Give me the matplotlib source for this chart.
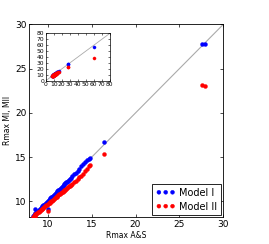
import matplotlib
matplotlib.use('Agg')
import matplotlib.pyplot as plt

# Rmax from A&S (x) vs Rmax from Model I / Model II (y)
as_vals = [8.3, 8.4, 8.5, 8.6, 8.7, 8.8, 8.9, 9.0, 9.1, 9.2, 9.3, 9.4, 9.5,
           9.6, 9.7, 9.8, 9.9, 10.0, 10.1, 10.2, 10.3, 10.4, 10.5, 10.6,
           10.7, 10.8, 10.9, 11.0, 11.1, 11.2, 11.3, 11.4, 11.5, 11.6, 11.7,
           11.8, 11.9, 12.0, 12.1, 12.2, 12.3, 12.4, 12.5, 12.6, 12.8, 13.0,
           13.2, 13.4, 13.6, 13.8, 14.0, 14.3, 14.5, 14.7, 14.8, 16.4,
           27.6, 27.9, 60.0]
model1 = [8.35, 8.45, 8.55, 8.65, 8.75, 8.85, 8.95, 9.05, 9.15, 9.25, 9.35,
          9.45, 9.55, 9.65, 9.75, 9.85, 9.95, 10.05, 10.15, 10.25, 10.35,
          10.45, 10.55, 10.65, 10.75, 10.85, 10.95, 11.05, 11.15, 11.25,
          11.35, 11.45, 11.55, 11.65, 11.75, 11.85, 11.95, 12.05, 12.15,
          12.25, 12.35, 12.45, 12.55, 12.65, 12.85, 13.05, 13.25, 13.45,
          13.7, 13.95, 14.2, 14.5, 14.7, 14.85, 14.9, 16.7,
          27.75, 27.75, 57.0]
model2 = [8.3, 8.4, 8.45, 8.55, 8.6, 8.7, 8.8, 8.85, 8.95, 9.05, 9.1, 9.2,
          9.3, 9.35, 9.45, 9.55, 9.6, 9.7, 9.8, 9.85, 9.95, 10.05, 10.1,
          10.2, 10.3, 10.35, 10.45, 10.55, 10.6, 10.7, 10.8, 10.85, 10.95,
          11.05, 11.1, 11.2, 11.3, 11.35, 11.45, 11.55, 11.6, 11.7, 11.8,
          11.85, 12.0, 12.2, 12.35, 12.55, 12.75, 12.9, 13.1, 13.45, 13.7,
          13.95, 14.1, 15.4, 23.1, 23.0, 38.0]
# a few off-diagonal points near the bottom
extra_x1 = [8.6, 10.0]
extra_y1 = [9.2, 9.1]
extra_x2 = [10.0, 8.5]
extra_y2 = [8.95, 8.3]

fig = plt.figure(figsize=(2.69, 2.44), dpi=100)
ax = fig.add_axes([0.109, 0.109, 0.721, 0.791])

ax.plot([0, 100], [0, 100], color='#aaaaaa', lw=0.8, zorder=1)
ax.scatter(as_vals + extra_x1, model1 + extra_y1, s=8, c='blue',
           edgecolors='blue', lw=0.3, label='Model I', zorder=3)
ax.scatter(as_vals + extra_x2, model2 + extra_y2, s=8, c='red',
           edgecolors='red', lw=0.3, label='Model II', zorder=3)

ax.set_xlim(7.9, 30)
ax.set_ylim(8.2, 30)
ax.set_xticks([10, 15, 20, 25, 30])
ax.set_yticks([10, 15, 20, 25, 30])
ax.tick_params(direction='in', length=2.5, width=0.5, labelsize=6.5,
               top=True, right=True, pad=2)
for sp in ax.spines.values():
    sp.set_linewidth(0.6)
ax.set_xlabel('Rmax A&S', fontsize=5.5, labelpad=1)
ax.set_ylabel('Rmax MI, MII', fontsize=5.5, labelpad=2)
leg = ax.legend(loc='lower right', scatterpoints=3, fontsize=7,
                fancybox=False, edgecolor='black', framealpha=1,
                handletextpad=0.4, borderpad=0.4, labelspacing=0.4,
                borderaxespad=0.2, scatteryoffsets=[0.5])
leg.get_frame().set_linewidth(0.6)

# inset with full range
ins = fig.add_axes([0.170, 0.669, 0.238, 0.194])
ins.plot([0, 80], [0, 80], color='#aaaaaa', lw=0.6, zorder=1)
ins.scatter(as_vals + extra_x1, model1 + extra_y1, s=5, c='blue',
            edgecolors='blue', lw=0.3, zorder=3)
ins.scatter(as_vals + extra_x2, model2 + extra_y2, s=5, c='red',
            edgecolors='red', lw=0.3, zorder=3)
ins.set_xlim(0, 80)
ins.set_ylim(0, 80)
ins.set_xticks(range(0, 81, 10))
ins.set_yticks(range(0, 81, 10))
ins.tick_params(direction='in', length=1.5, width=0.4, labelsize=4.3,
                top=True, right=True, pad=1)
for sp in ins.spines.values():
    sp.set_linewidth(0.5)

plt.savefig('out.png', dpi=100)
